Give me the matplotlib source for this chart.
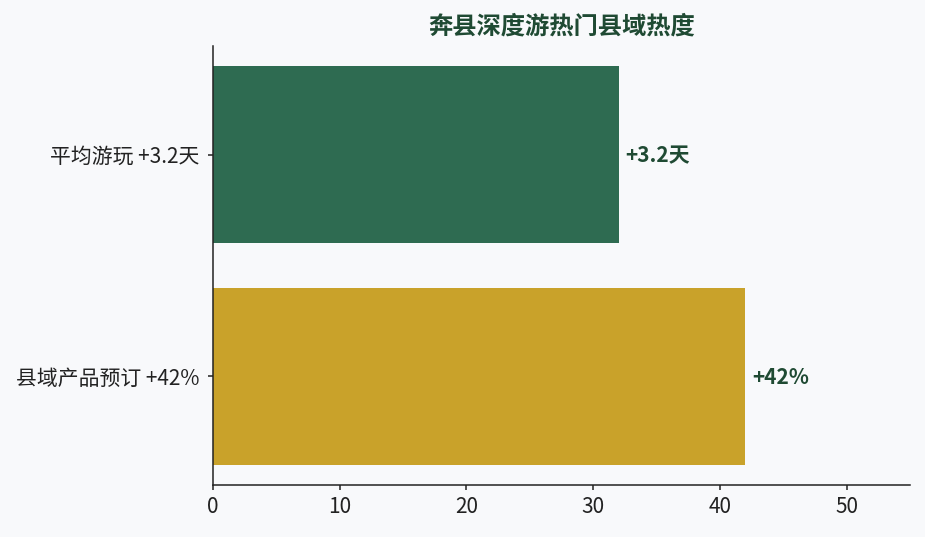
import matplotlib.pyplot as plt
from matplotlib import rcParams

rcParams["font.family"] = ["Noto Sans CJK SC", "DejaVu Sans"]
rcParams["axes.unicode_minus"] = False

# 数据
categories = ["平均游玩 +3.2天", "县域产品预订 +42%"]
values = [32, 42]
value_labels = ["+3.2天", "+42%"]
bar_colors = ["#2e6b51", "#c9a22a"]
title = "奔县深度游热门县域热度"

bg = "#f8f9fb"
fig = plt.figure(figsize=(9.25, 5.37), dpi=100, facecolor=bg)
ax = fig.add_axes([0.2303, 0.0968, 0.7535, 0.8175], facecolor=bg)

ax.barh(categories, values, height=0.8, color=bar_colors)
ax.invert_yaxis()
ax.set_xlim(0, 55)

for i, (v, lab) in enumerate(zip(values, value_labels)):
    ax.annotate(lab, (v, i), xytext=(5, -1), textcoords="offset points",
                ha="left", va="center", fontsize=15, fontweight="bold",
                color="#1f4a33")

ax.set_title(title, fontsize=17.5, fontweight="bold", color="#1f4a33", pad=9)
ax.tick_params(labelsize=15, colors="#222222", width=1.1)
ax.tick_params(axis="y", pad=6)
ax.tick_params(axis="x", pad=4.5)
for s in ["top", "right"]:
    ax.spines[s].set_visible(False)
for s in ["left", "bottom"]:
    ax.spines[s].set_color("#222222")
    ax.spines[s].set_linewidth(1.1)

plt.savefig("out.png", dpi=100, facecolor=bg)
